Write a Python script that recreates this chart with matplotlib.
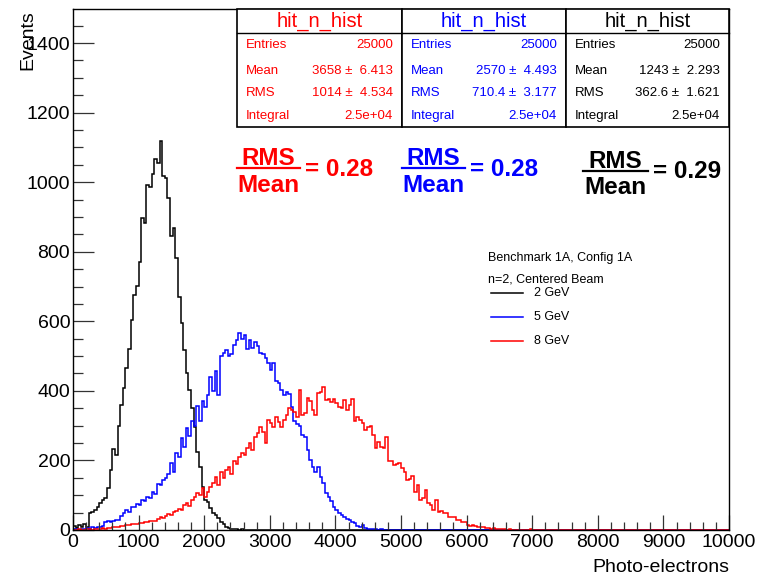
import numpy as np
import matplotlib.pyplot as plt
from matplotlib.patches import Rectangle
from matplotlib.lines import Line2D
from matplotlib.ticker import MultipleLocator

plt.rcParams['font.family'] = ['Liberation Sans', 'DejaVu Sans']

W, H = 759, 576
BIN_WIDTH = 40
X_MAX = 10000

# bin contents, 40 p.e. wide bins starting at 0 (empty bins after the list)
counts_2gev = [12, 5, 15, 8, 18, 10, 48, 52, 58, 66,
               78, 85, 92, 120, 172, 234, 215, 300, 360, 408,
               465, 520, 604, 676, 702, 770, 897, 883, 993, 986,
               1024, 1067, 1055, 1118, 1017, 1012, 955, 846, 868, 782,
               671, 595, 518, 452, 403, 350, 297, 225, 182, 125,
               86, 81, 62, 50, 43, 34, 24, 16, 10, 6,
               4, 2, 2, 1, 2, 1]

counts_5gev = [2, 3, 1, 4, 3, 5, 4, 8, 6, 10,
               8, 12, 24, 25, 24, 26, 28, 30, 40, 50,
               58, 52, 67, 65, 76, 72, 86, 82, 96, 92,
               110, 104, 132, 128, 144, 150, 160, 192, 168, 221,
               210, 264, 240, 293, 270, 312, 300, 357, 312, 372,
               355, 388, 441, 400, 457, 388, 499, 509, 518, 499,
               505, 532, 547, 566, 550, 560, 521, 545, 524, 540,
               530, 510, 505, 495, 480, 460, 480, 427, 422, 403,
               388, 397, 392, 355, 312, 306, 300, 273, 268, 230,
               201, 182, 168, 182, 153, 134, 106, 96, 82, 67,
               58, 48, 42, 38, 32, 29, 22, 19, 12, 8,
               15, 5, 4, 3, 2, 3, 1, 2, 1, 1]

counts_8gev = [1, 0, 2, 1, 0, 3, 2, 1, 4, 2,
               3, 5, 4, 6, 5, 8, 10, 9, 12, 11,
               15, 13, 16, 18, 17, 20, 19, 23, 22, 26,
               27, 25, 32, 38, 35, 40, 46, 43, 53, 56,
               60, 58, 72, 77, 68, 86, 96, 106, 100, 120,
               96, 110, 125, 134, 153, 130, 168, 150, 173, 182,
               160, 197, 190, 211, 221, 215, 235, 250, 230, 268,
               278, 297, 283, 250, 317, 307, 297, 326, 310, 297,
               317, 330, 350, 345, 340, 326, 403, 331, 335, 379,
               370, 345, 331, 393, 398, 412, 374, 378, 369, 378,
               365, 355, 350, 374, 345, 360, 378, 312, 326, 317,
               307, 288, 295, 300, 273, 235, 254, 240, 235, 268,
               197, 199, 187, 190, 192, 177, 168, 144, 148, 154,
               110, 130, 86, 91, 115, 77, 72, 58, 86, 53,
               55, 50, 48, 38, 38, 36, 29, 28, 24, 22,
               15, 12, 14, 12, 10, 9, 8, 6, 5, 4,
               5, 3, 3, 2, 2, 1, 2, 1, 1, 0,
               1, 0, 1, 0, 2, 1]

series = [counts_2gev, counts_5gev, counts_8gev]
labels = ['2 GeV', '5 GeV', '8 GeV']
colors = ['black', 'blue', 'red']

# stat boxes, left to right: 8 GeV, 5 GeV, 2 GeV
box_colors = ['red', 'blue', 'black']
entries = [25000, 25000, 25000]
means = [3658, 2570, 1243]
mean_errs = [6.413, 4.493, 2.293]
rms = [1014, 710.4, 362.6]
rms_errs = [4.534, 3.177, 1.621]
integrals = [25000, 25000, 25000]
ratios = [0.28, 0.28, 0.29]


def fx(x):
    return x / W


def fy(y):
    return 1 - y / H


fig = plt.figure(figsize=(W / 100, H / 100), dpi=100)
ax = fig.add_axes([fx(73), fy(530), (729 - 73) / W, (530 - 9) / H])

edges = np.arange(0, X_MAX + BIN_WIDTH, BIN_WIDTH)
for c, col in zip(series, colors):
    full = np.zeros(len(edges) - 1)
    full[:len(c)] = c
    ax.stairs(full, edges, color=col, lw=1.1)

ax.set_xlim(0, X_MAX)
ax.set_ylim(0, 1498)
ax.xaxis.set_major_locator(MultipleLocator(1000))
ax.xaxis.set_minor_locator(MultipleLocator(200))
ax.yaxis.set_major_locator(MultipleLocator(200))
ax.yaxis.set_minor_locator(MultipleLocator(50))
ax.tick_params(which='both', direction='in', top=False, right=False,
               labelsize=14, width=0.9, color='#333333')
ax.xaxis.set_tick_params(which='major', length=11, pad=3)
ax.xaxis.set_tick_params(which='minor', length=5.5)
ax.yaxis.set_tick_params(which='major', length=15, pad=2)
ax.yaxis.set_tick_params(which='minor', length=7.5)
for s in ax.spines.values():
    s.set_linewidth(1.0)

fig.text(fx(729), fy(567), 'Photo-electrons', ha='right', va='center', fontsize=14)
fig.text(fx(28), fy(10), 'Events', rotation=90, ha='center', va='top', fontsize=14)

# stat boxes
box_x = [(237, 402), (402, 566), (566, 729)]
for i, (x0, x1) in enumerate(box_x):
    col = box_colors[i]
    fig.patches.append(Rectangle((fx(x0), fy(127)), (x1 - x0) / W, (127 - 9.3) / H,
                                 transform=fig.transFigure, facecolor='white',
                                 edgecolor='black', lw=1.2, zorder=5))
    fig.lines.append(Line2D([fx(x0), fx(x1)], [fy(32.7), fy(32.7)],
                            transform=fig.transFigure, color='black', lw=1.0, zorder=6))
    fig.text(fx((x0 + x1) / 2), fy(27), 'hit_n_hist', ha='center', va='baseline',
             fontsize=14.5, color=col, zorder=7)
    rows = [('Entries', f'{entries[i]}'),
            ('Mean', f'{means[i]:g} \u00b1  {mean_errs[i]:.3f}'),
            ('RMS', f'{rms[i]:g} \u00b1  {rms_errs[i]:.3f}'),
            ('Integral', f'{integrals[i]:.2g}')]
    for (name, val), yb in zip(rows, [48.5, 73.5, 96.5, 119]):
        fig.text(fx(x0 + 9), fy(yb), name, ha='left', va='baseline',
                 fontsize=9.5, color=col, zorder=7)
        fig.text(fx(x1 - 9), fy(yb), val, ha='right', va='baseline',
                 fontsize=9.5, color=col, zorder=7)

# RMS / Mean fractions
frac_pos = [(237, 300, 0), (402, 465, 0), (583, 648, 2.5)]
for (x0, x1, dy), col, r in zip(frac_pos, box_colors, ratios):
    xc = (x0 + x1) / 2
    fig.text(fx(xc), fy(165 + dy), 'RMS', ha='center', va='baseline',
             fontsize=17.5, fontweight='bold', color=col)
    fig.lines.append(Line2D([fx(x0), fx(x1)], [fy(168 + dy), fy(168 + dy)],
                            transform=fig.transFigure, color=col, lw=1.6))
    fig.text(fx(xc), fy(191.5 + dy), 'Mean', ha='center', va='baseline',
             fontsize=17.5, fontweight='bold', color=col)
    fig.text(fx(x1 + 5), fy(176 + dy), f'= {r:.2f}', ha='left', va='baseline',
             fontsize=17.5, fontweight='bold', color=col)

# legend
fig.text(fx(488), fy(261), 'Benchmark 1A, Config 1A', ha='left', va='baseline', fontsize=9)
fig.text(fx(488), fy(283), 'n=2, Centered Beam', ha='left', va='baseline', fontsize=9)
for lab, col, yl in zip(labels, colors, [292.5, 317, 341]):
    fig.lines.append(Line2D([fx(491), fx(523)], [fy(yl), fy(yl)],
                            transform=fig.transFigure, color=col, lw=1.1))
    fig.text(fx(534), fy(yl), lab, ha='left', va='center', fontsize=9)

fig.savefig('out.png', dpi=100)
